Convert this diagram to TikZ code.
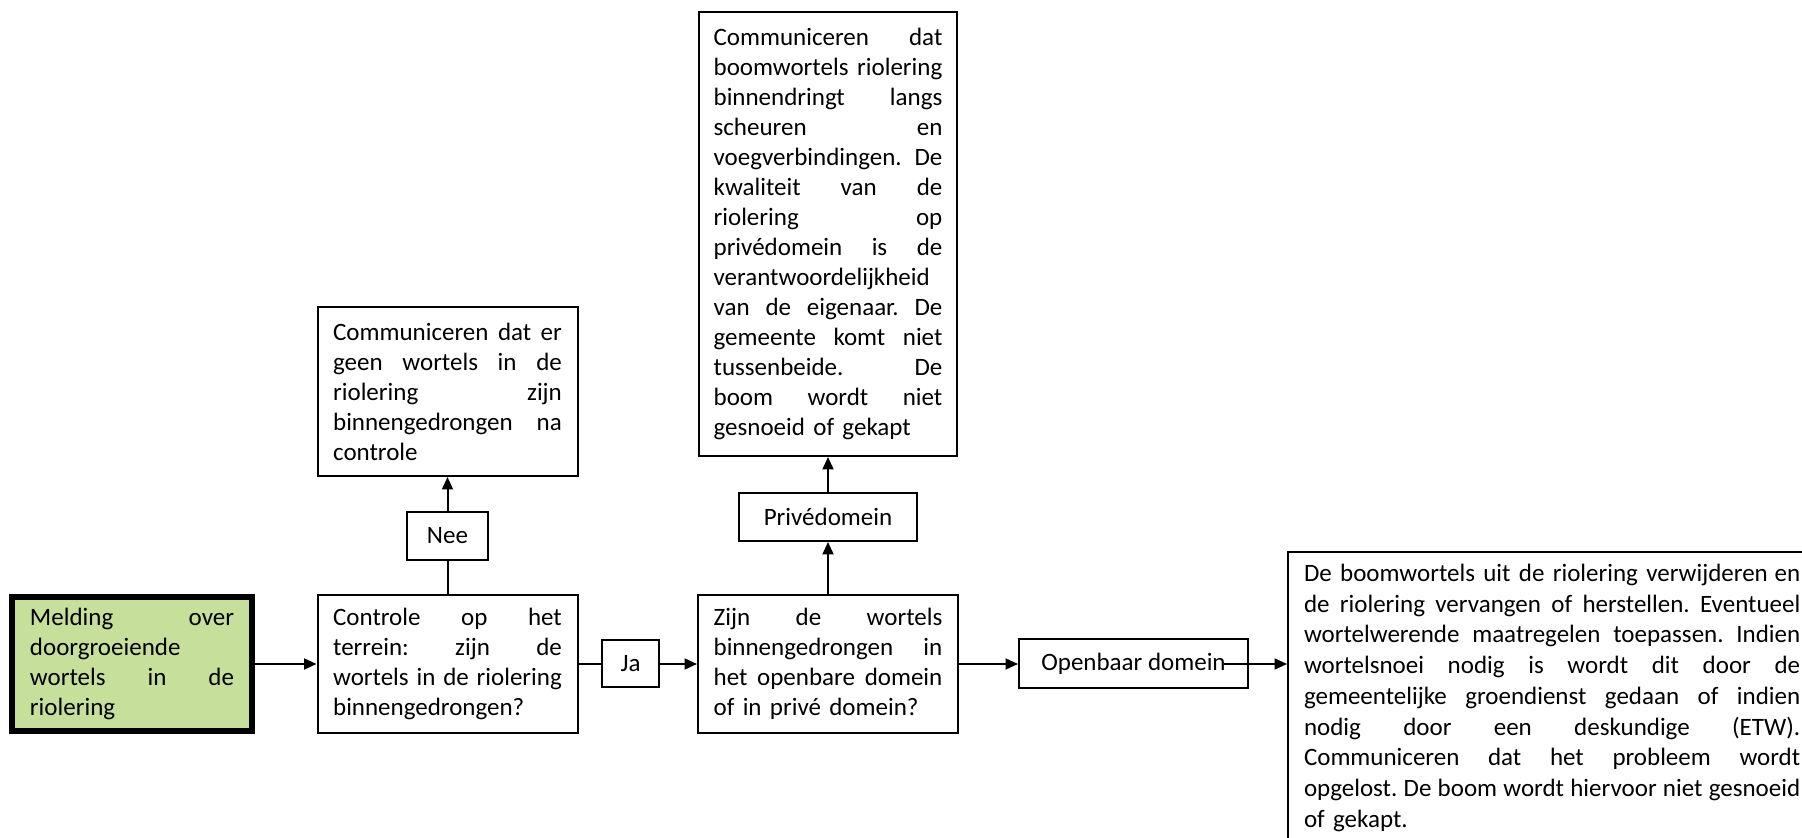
\documentclass[tikz,border=0pt]{standalone}
\usepackage{fontspec}
\setmainfont{Carlito}
\usetikzlibrary{arrows.meta}
\definecolor{meldgreen}{RGB}{198,224,156}

\begin{document}
\begin{tikzpicture}[x=0.4pt,y=0.4pt]
\tikzstyle{every node}+=[font=\fontsize{10}{12}\selectfont]
\tikzstyle{box}=[draw=black, line width=0.8pt, inner sep=0pt]
\tikzstyle{txtbox}=[box, text width=91.5pt, minimum width=104pt]
\tikzstyle{line}=[black, line width=0.8pt]
\tikzstyle{arr}=[line, -{Triangle[length=5pt,width=4.4pt]}]
\useasboundingbox (0,0) rectangle (1802,-838);
\clip (0,0) rectangle (1802,-838);
% bottom row
\node[box, fill=meldgreen, line width=2.4pt, text width=81.6pt, minimum width=96pt, minimum height=53.6pt] (meld) at (132,-664)
  {Melding\hfill over\\doorgroeiende\\wortels\hfill in\hfill de\\riolering};
\node[txtbox, minimum height=55.2pt] (ctrl) at (447.5,-664)
  {Controle\hfill op\hfill het\\terrein:\hfill zijn\hfill de\\wortels\hfill in\hfill de\hfill riolering\\binnengedrongen?};
\node[box, minimum width=22.8pt, minimum height=18.8pt] (ja) at (630.5,-664) {Ja};
\node[txtbox, minimum height=55.2pt] (zijn) at (828,-664)
  {Zijn\hfill de\hfill wortels\\binnengedrongen\hfill in\\het\hfill openbare\hfill domein\\of in privé domein?};
\node[box, minimum width=91.6pt, minimum height=19.6pt] (open) at (1133.5,-664) {Openbaar domein};
\node[box, anchor=north west, text width=198.5pt, inner xsep=6.4pt, inner ysep=4.8pt, font=\fontsize{10}{12.3}\selectfont] (rbox) at (1287,-551)
  {De boomwortels uit de riolering verwijderen\hfill en\\
   de\hfill riolering\hfill vervangen\hfill of\hfill herstellen.\hfill Eventueel\\
   wortelwerende\hfill maatregelen\hfill toepassen.\hfill Indien\\
   wortelsnoei\hfill nodig\hfill is\hfill wordt\hfill dit\hfill door\hfill de\\
   gemeentelijke\hfill groendienst\hfill gedaan\hfill of\hfill indien\\
   nodig\hfill door\hfill een\hfill deskundige\hfill (ETW).\\
   Communiceren\hfill dat\hfill het\hfill probleem\hfill wordt\\
   opgelost.\hfill De\hfill boom\hfill wordt\hfill hiervoor\hfill niet\hfill gesnoeid\\
   of gekapt.};
% Nee branch
\node[box, minimum width=32.4pt, minimum height=19.2pt] (nee) at (447.5,-536) {Nee};
\node[txtbox, minimum height=67.6pt] (geen) at (447.5,-391.5)
  {Communiceren\hfill dat\hfill er\\geen\hfill wortels\hfill in\hfill de\\riolering\hfill zijn\\binnengedrongen\hfill na\\controle};
% privedomein branch
\node[box, minimum width=71.2pt, minimum height=19.2pt] (prive) at (828,-517) {Privédomein};
\node[txtbox, minimum width=103.2pt, minimum height=177.6pt] (big) at (828,-234)
  {Communiceren\hfill dat\\boomwortels\hfill riolering\\binnendringt\hfill langs\\scheuren\hfill en\\
   voegverbindingen.\hfill De\\kwaliteit\hfill van\hfill de\\riolering\hfill op\\privédomein\hfill is\hfill de\\
   verantwoordelijkheid\\van\hfill de\hfill eigenaar.\hfill De\\gemeente\hfill komt\hfill niet\\
   tussenbeide.\hfill De\\boom\hfill wordt\hfill niet\\gesnoeid of gekapt};
% connectors
\draw [arr] (meld) -- (ctrl);
\draw [line] (ctrl) -- (ja);
\draw [arr] (ja) -- (zijn);
\draw [arr] (zijn) -- (open);
\draw [arr] ([xshift=-10pt]open.east) -- (rbox.west |- open.east);
\draw [line] (ctrl) -- (nee);
\draw [arr] (nee) -- (geen);
\draw [arr] (zijn) -- (prive);
\draw [arr] (prive) -- (big);
\end{tikzpicture}
\end{document}
